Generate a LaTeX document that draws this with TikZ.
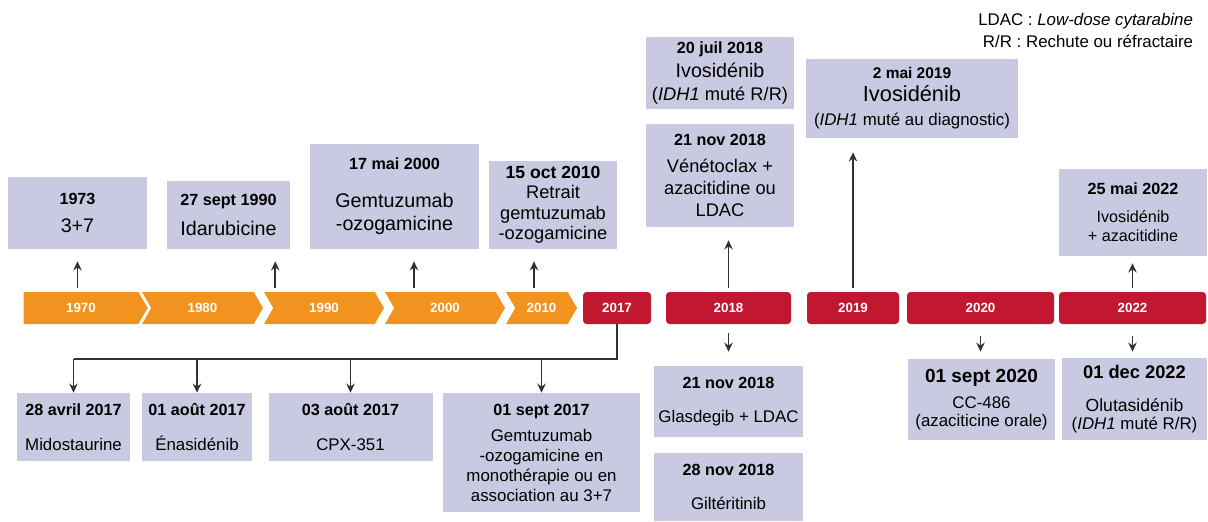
\documentclass[tikz,border=0pt]{standalone}
\usepackage{fontspec}
\setmainfont{Liberation Sans}
\usetikzlibrary{arrows.meta,shapes.symbols,positioning}

\definecolor{boxfill}{RGB}{201,202,225}
\definecolor{barorange}{RGB}{242,147,31}
\definecolor{barred}{RGB}{194,23,48}
\definecolor{linkgray}{RGB}{50,50,50}

\newcommand{\evdate}[2][11.5]{{\fontsize{#1}{#1}\selectfont\bfseries #2}}

\tikzset{
  evbox/.style 2 args={fill=boxfill, minimum width=#1*0.025cm, minimum height=#2*0.025cm, align=center, inner sep=1pt},
  yearsig/.style={signal, signal to=east, signal pointer angle=120, fill=barorange, text=white, minimum height=0.8cm, inner sep=0pt, font=\fontsize{9.5}{9.5}\selectfont\bfseries},
  yearbox/.style={rectangle, rounded corners=2.5pt, fill=barred, text=white, minimum height=0.8cm, inner sep=0pt, font=\fontsize{9.5}{9.5}\selectfont\bfseries},
  tolink/.style={draw=linkgray, line width=1.2pt, -{Stealth[length=6.5pt,width=6pt]}},
  busline/.style={draw=linkgray, line width=1.2pt}
}

\begin{document}
\begin{tikzpicture}[x=0.025cm,y=-0.025cm]
\useasboundingbox (0,0) rectangle (1208,521);

\begin{scope}
    \node[yearsig, minimum width=124*0.025cm] (y1970) at (81,308) {1970};
    \node[yearsig, signal from=west, minimum width=121*0.025cm] (y1980) at (202.5,308) {1980};
    \node[yearsig, signal from=west, minimum width=120*0.025cm] (y1990) at (324,308) {1990};
    \node[yearsig, signal from=west, minimum width=120*0.025cm] (y2000) at (445,308) {2000};
    \node[yearsig, signal from=west, minimum width=71*0.025cm] (y2010) at (541.5,308) {2010};
    \node[yearbox, minimum width=68*0.025cm] (y2017) at (617,308) {2017};
    \node[yearbox, minimum width=125*0.025cm] (y2018) at (728.5,308) {2018};
    \node[yearbox, minimum width=92*0.025cm] (y2019) at (853,308) {2019};
    \node[yearbox, minimum width=147*0.025cm] (y2020) at (980.5,308) {2020};
    \node[yearbox, minimum width=147*0.025cm] (y2022) at (1132.5,308) {2022};
\end{scope}

\begin{scope}
    \node[evbox={139}{72}, font=\fontsize{14}{17}\selectfont] (t1973) at (77.5,213) {\evdate{1973}\\[3pt]3+7};
    \node[evbox={123}{68}, font=\fontsize{14}{17}\selectfont] (t1990) at (228.5,215) {\evdate{27 sept 1990}\\[4.3pt]Idarubicine};
    \node[evbox={169}{105}, font=\fontsize{14}{16.4}\selectfont] (t2000) at (394.5,196.5) {\evdate{17 mai 2000}\\[10.6pt]Gemtuzumab\\-ozogamicine};
    \node[evbox={128}{88}, font=\fontsize{13}{14.9}\selectfont] (t2010) at (553,205) {\evdate[12.5]{15 oct 2010}\\[-1pt]Retrait\\gemtuzumab\\-ozogamicine};
    \node[evbox={148}{72}, font=\fontsize{14}{16.4}\selectfont] (t2018a) at (720,73) {\evdate{20 juil 2018}\\[0.6pt]Ivosidénib\\{\fontsize{13}{16.4}\selectfont(\textit{IDH1} muté R/R)}};
    \node[evbox={148}{103}, font=\fontsize{13}{15.6}\selectfont] (t2018b) at (720,175.5) {\evdate{21 nov 2018}\\[3.6pt]Vénétoclax +\\azacitidine ou\\LDAC};
    \node[evbox={212}{79}, font=\fontsize{12}{17}\selectfont] (t2019) at (912,98.5) {\evdate[11]{2 mai 2019}\\[-0.6pt]{\fontsize{15.5}{17}\selectfont Ivosidénib}\\(\textit{IDH1} muté au diagnostic)};
    \node[evbox={148}{87}, font=\fontsize{11.5}{13.5}\selectfont] (t2022) at (1133,212.5) {\evdate{25 mai 2022}\\[6.4pt]Ivosidénib\\+ azacitidine};

    \node[evbox={113}{68}, font=\fontsize{12}{14.5}\selectfont] (b1) at (73.5,427) {\evdate{28 avril 2017}\\[10.4pt]Midostaurine};
    \node[evbox={110}{68}, font=\fontsize{12}{14.5}\selectfont] (b2) at (197,427) {\evdate{01 août 2017}\\[10.4pt]Énasidénib};
    \node[evbox={164}{68}, font=\fontsize{12}{14.5}\selectfont] (b3) at (350.5,427) {\evdate{03 août 2017}\\[10.4pt]CPX-351};
    \node[evbox={197}{119}, font=\fontsize{12}{14.2}\selectfont] (b4) at (541.5,452.5) {\evdate{01 sept 2017}\\[4.3pt]Gemtuzumab\\-ozogamicine en\\monothérapie ou en\\association au 3+7};
    \node[evbox={149}{71}, font=\fontsize{12}{14.5}\selectfont] (b2018a) at (728.5,401.5) {\evdate{21 nov 2018}\\[9.7pt]Glasdegib + LDAC};
    \node[evbox={149}{68}, font=\fontsize{12}{14.5}\selectfont] (b2018b) at (728.5,487) {\evdate{28 nov 2018}\\[9.7pt]Giltéritinib};
    \node[evbox={147}{81}, font=\fontsize{12}{13}\selectfont] (b2020) at (981.5,399.5) {\evdate[13.5]{01 sept 2020}\\[5.5pt]CC-486\\(azaciticine orale)};
    \node[evbox={145}{82}, font=\fontsize{12.5}{13}\selectfont] (b2022) at (1134.5,399) {\evdate[13]{01 dec 2022}\\[10.5pt]Olutasidénib\\{\fontsize{12}{13}\selectfont(\textit{IDH1} muté R/R)}};

    \node[anchor=east, align=right, font=\fontsize{12}{15}\selectfont] (legend) at (1198,30.5) {LDAC : \textit{Low-dose cytarabine}\\R/R : Rechute ou réfractaire};
\end{scope}

\path (t1990.south east) ++(-15,0) coordinate (a1990);
\path (t2000.south) ++(19.5,0) coordinate (a2000);
\path (t2010.south) ++(-19,0) coordinate (a2010);
\coordinate (bus) at (617,359);

\begin{scope}[shorten <=0.1cm]
    \draw[tolink, shorten >=0.3cm] (y1970.north -| t1973.south) -- (t1973.south);
    \draw[tolink, shorten >=0.3cm] (y1990.north -| a1990) -- (a1990);
    \draw[tolink, shorten >=0.3cm] (y2000.north -| a2000) -- (a2000);
    \draw[tolink, shorten >=0.3cm] (y2010.north -| a2010) -- (a2010);
    \draw[tolink, shorten >=0.325cm] (y2018.north) -- (y2018.north |- t2018b.south);
    \draw[tolink, shorten >=0.35cm] (y2019.north) -- (y2019.north |- t2019.south);
    \draw[tolink, shorten >=0.175cm] (y2022.north) -- (y2022.north |- t2022.south);
\end{scope}

\draw[tolink, shorten <=0.225cm, shorten >=0.35cm] (y2018.south) -- (y2018.south |- b2018a.north);
\draw[tolink, shorten <=0.3cm, shorten >=0.175cm] (y2020.south) -- (y2020.south |- b2020.north);
\draw[tolink, shorten <=0.3cm, shorten >=0.15cm] (y2022.south) -- (y2022.south |- b2022.north);

\draw[busline] (y2017.south) -- (bus) -- (bus -| b1.north);
\foreach \b in {b1,b2,b3,b4}
    \draw[tolink] (bus -| \b.north) -- (\b.north);
\end{tikzpicture}
\end{document}
